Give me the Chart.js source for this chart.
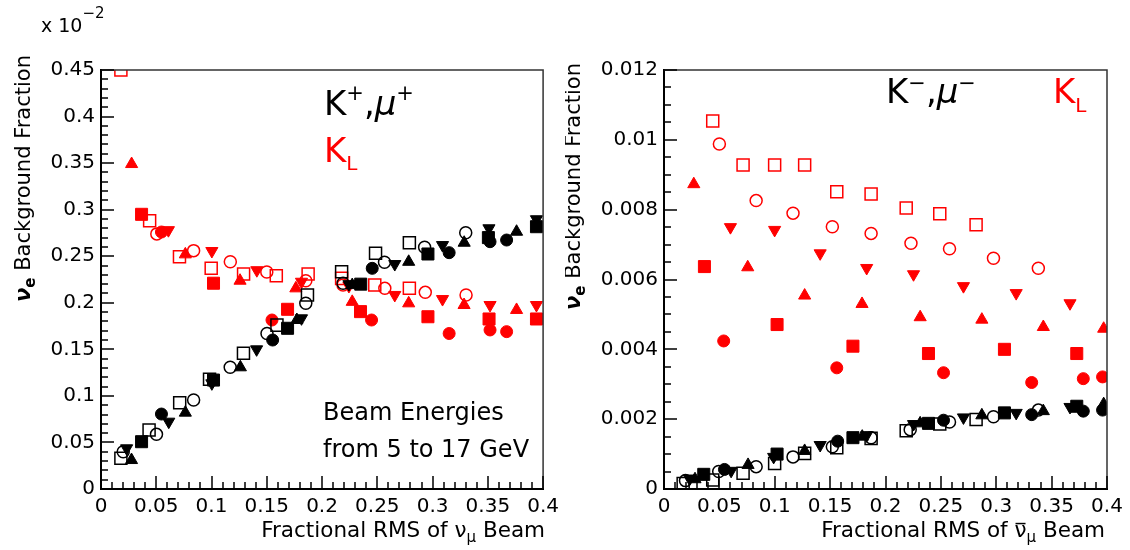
<!DOCTYPE html>
<html>
<head>
<meta charset="utf-8">
<script src="https://cdn.jsdelivr.net/npm/chart.js@4.4.1/dist/chart.umd.min.js"></script>
<style>
  body { margin: 0; background: #fff; }
  #wrap { position: relative; width: 1130px; height: 550px; }
  canvas { position: absolute; top: 0; }
  #left { left: 0; }
  #right { left: 565px; }
</style>
</head>
<body>
<div id="wrap">
  <canvas id="left" width="565" height="550" style="width:565px;height:550px"></canvas>
  <canvas id="right" width="565" height="550" style="width:565px;height:550px"></canvas>
</div>
<script>
const RED = '#ff0000';
const BLACK = '#000000';
const FONT = '"DejaVu Sans"';

// left panel, y in units of 1e-2 ; [fractional RMS, background fraction]
const kPlusOpenSquare = [[0.018,0.033],[0.0435,0.0634],[0.0712,0.0927],[0.0982,0.1178],[0.1289,0.1457],[0.1592,0.176],[0.1868,0.2084],[0.2177,0.2334],[0.2484,0.2531],[0.279,0.2645]];
const kPlusOpenCircle = [[0.0201,0.040],[0.0502,0.0587],[0.0838,0.0956],[0.1169,0.1307],[0.1502,0.167],[0.1853,0.1995],[0.219,0.221],[0.2565,0.2435],[0.2928,0.2596],[0.33,0.2753]];
const kPlusDownTri = [[0.0232,0.0437],[0.0613,0.0723],[0.1003,0.1135],[0.1408,0.150],[0.1814,0.1833],[0.2243,0.220],[0.2658,0.2416],[0.309,0.262],[0.351,0.28],[0.394,0.2897]];
const kPlusUpTri = [[0.0276,0.0311],[0.0763,0.082],[0.1261,0.1307],[0.1772,0.1815],[0.2273,0.219],[0.2784,0.244],[0.3286,0.2645],[0.376,0.2763]];
const kPlusSquare = [[0.0367,0.0508],[0.1018,0.117],[0.1688,0.1726],[0.235,0.220],[0.2958,0.2524],[0.3505,0.270],[0.394,0.2817]];
const kPlusCircle = [[0.0547,0.0805],[0.1553,0.16],[0.2454,0.237],[0.315,0.2538],[0.352,0.2656],[0.367,0.2674]];

const kLongLOpenSquare = [[0.018,0.45],[0.044,0.288],[0.071,0.2495],[0.0997,0.237],[0.129,0.231],[0.1586,0.229],[0.1874,0.231],[0.2177,0.2262],[0.2477,0.219],[0.279,0.2155]];
const kLongLOpenCircle = [[0.0505,0.274],[0.0838,0.256],[0.117,0.244],[0.150,0.233],[0.1853,0.2237],[0.219,0.219],[0.2568,0.2155],[0.2934,0.2112],[0.3303,0.2084]];
const kLongLDownTri = [[0.061,0.278],[0.1003,0.2556],[0.141,0.235],[0.1814,0.2226],[0.2243,0.218],[0.2658,0.2084],[0.309,0.204],[0.352,0.1976],[0.394,0.1976]];
const kLongLUpTri = [[0.0277,0.349],[0.0763,0.252],[0.1258,0.2237],[0.1763,0.2155],[0.2273,0.201],[0.2784,0.1994],[0.3285,0.1976],[0.376,0.1923]];
const kLongLSquare = [[0.0367,0.295],[0.1018,0.221],[0.1688,0.193],[0.2348,0.1905],[0.2958,0.185],[0.3511,0.1826],[0.394,0.1826]];
const kLongLCircle = [[0.0547,0.276],[0.1547,0.1815],[0.2448,0.1815],[0.315,0.167],[0.352,0.1708],[0.367,0.169]];

// right panel (antineutrino beam)
const kMinusOpenSquare = [[0.0173,0.00016],[0.044,0.00026],[0.0714,0.00045],[0.0999,0.00073],[0.127,0.00102],[0.156,0.00118],[0.187,0.00145],[0.2187,0.00167],[0.249,0.00186],[0.2818,0.00199]];
const kMinusOpenCircle = [[0.0194,0.00024],[0.0494,0.0005],[0.0832,0.00064],[0.1165,0.00092],[0.152,0.00121],[0.187,0.00147],[0.2223,0.0017],[0.2578,0.00192],[0.2975,0.00207],[0.338,0.00226]];
const kMinusDownTri = [[0.023,0.0003],[0.0606,0.00052],[0.099,0.00092],[0.141,0.00126],[0.183,0.00154],[0.2253,0.00186],[0.2704,0.00205],[0.318,0.00218],[0.3666,0.00235]];
const kMinusUpTri = [[0.028,0.00028],[0.0759,0.00069],[0.127,0.00109],[0.179,0.0015],[0.2313,0.00188],[0.287,0.00211],[0.3425,0.00223],[0.397,0.00243]];
const kMinusSquare = [[0.0359,0.00042],[0.1021,0.001],[0.1706,0.00147],[0.2388,0.00188],[0.3074,0.00218],[0.3727,0.00237]];
const kMinusCircle = [[0.0546,0.00056],[0.1568,0.00137],[0.2524,0.00197],[0.332,0.00213],[0.3786,0.00223],[0.396,0.00226]];

const kLongROpenSquare = [[0.044,0.01054],[0.0714,0.00928],[0.0999,0.00928],[0.127,0.00928],[0.156,0.00851],[0.187,0.00845],[0.2187,0.00805],[0.249,0.00788],[0.2818,0.00757]];
const kLongROpenCircle = [[0.050,0.00988],[0.0832,0.00826],[0.1165,0.0079],[0.152,0.00751],[0.187,0.00732],[0.223,0.00704],[0.2578,0.00688],[0.2975,0.00661],[0.338,0.00632]];
const kLongRDownTri = [[0.060,0.0075],[0.0999,0.00742],[0.141,0.00675],[0.183,0.00633],[0.2253,0.00615],[0.2704,0.00581],[0.318,0.00561],[0.3666,0.00532]];
const kLongRUpTri = [[0.0269,0.00873],[0.0756,0.00635],[0.127,0.00554],[0.1788,0.0053],[0.2313,0.00492],[0.287,0.00485],[0.3425,0.00464],[0.397,0.00459]];
const kLongRSquare = [[0.0365,0.00637],[0.1021,0.00471],[0.1706,0.00409],[0.2388,0.00388],[0.3074,0.004],[0.3727,0.00388]];
const kLongRCircle = [[0.0539,0.00424],[0.156,0.00347],[0.2524,0.00333],[0.332,0.00305],[0.3786,0.00316],[0.396,0.00321]];

const MARKERS = {
  square: { style: 'rect', r: 8.5, rot: 0 },
  circle: { style: 'circle', r: 6, rot: 0 },
  up: { style: 'triangle', r: 7, rot: 0 },
  down: { style: 'triangle', r: 7, rot: 180 }
};

function series(points, color, marker, open) {
  const m = MARKERS[marker];
  return {
    data: points.map(([x, y]) => ({ x, y })),
    pointStyle: m.style,
    pointRadius: m.r,
    pointHoverRadius: m.r,
    pointRotation: m.rot,
    pointBackgroundColor: open ? 'rgba(0,0,0,0)' : color,
    pointBorderColor: color,
    pointBorderWidth: open ? 1.5 : 1,
    showLine: false,
    clip: 0
  };
}

function panelSets(black, red) {
  const kinds = [['square', true], ['circle', true], ['down', false], ['up', false], ['square', false], ['circle', false]];
  const sets = [];
  black.forEach((pts, i) => sets.push(series(pts, BLACK, kinds[i][0], kinds[i][1])));
  red.forEach((pts, i) => sets.push(series(pts, RED, kinds[i][0], kinds[i][1])));
  return sets;
}

const fmt = v => String(+Number(v).toFixed(4));

function drawItem(ctx, it) {
  ctx.save();
  ctx.translate(it.x, it.y);
  if (it.rotate) ctx.rotate(-Math.PI / 2);
  ctx.textBaseline = 'alphabetic';
  ctx.textAlign = 'left';
  const fontOf = p => `${p.italic ? 'italic ' : ''}${p.bold ? 'bold ' : ''}${p.size}px ${FONT}`;
  let w = 0;
  for (const p of it.parts) { ctx.font = fontOf(p); w += ctx.measureText(p.t).width; }
  let cx = it.align === 'right' ? -w : 0;
  for (const p of it.parts) {
    ctx.font = fontOf(p);
    ctx.fillStyle = p.color || BLACK;
    const pw = ctx.measureText(p.t).width;
    ctx.fillText(p.t, cx, p.dy || 0);
    if (p.bar) ctx.fillRect(cx + 1, (p.dy || 0) - p.size * 0.66, pw - 2, 1.5);
    cx += pw;
  }
  ctx.restore();
}

// frame on top/right, inward tick marks on the two axes, then the texts
function decorations(key, texts, yMax, yMinor, yEvery) {
  return {
    id: 'deco_' + key,
    afterDraw(chart) {
      const ctx = chart.ctx;
      const a = chart.chartArea;
      const xs = chart.scales.x;
      const ys = chart.scales.y;
      ctx.save();
      ctx.setTransform(1, 0, 0, 1, 0, 0);
      ctx.globalAlpha = 1;
      ctx.globalCompositeOperation = 'source-over';
      ctx.strokeStyle = '#333333';
      ctx.lineWidth = 1.5;
      ctx.beginPath();
      ctx.moveTo(a.left, a.top);
      ctx.lineTo(a.right, a.top);
      ctx.lineTo(a.right, a.bottom);
      ctx.stroke();

      ctx.strokeStyle = '#000000';
      ctx.lineWidth = 1.5;
      ctx.beginPath();
      for (let i = 0; i <= 40; i++) {
        const px = Math.round(xs.getPixelForValue(i / 100));
        const len = (i % 5 === 0) ? 13 : 7;
        ctx.moveTo(px, a.bottom);
        ctx.lineTo(px, a.bottom - len);
      }
      const ny = Math.round(yMax / yMinor);
      for (let j = 0; j <= ny; j++) {
        const py = Math.round(ys.getPixelForValue(j * yMinor));
        const len = (j % yEvery === 0) ? 13 : 7;
        ctx.moveTo(a.left, py);
        ctx.lineTo(a.left + len, py);
      }
      ctx.stroke();
      ctx.restore();
      texts.forEach(it => drawItem(ctx, it));
    }
  };
}

function scales(yMax, yStep) {
  const tickFont = { family: 'DejaVu Sans', size: 20 };
  return {
    x: {
      type: 'linear', min: 0, max: 0.4,
      ticks: { stepSize: 0.05, callback: fmt, font: tickFont, color: BLACK, padding: 6, maxRotation: 0, autoSkip: false },
      grid: { display: false, drawTicks: false },
      border: { display: true, color: BLACK, width: 2 },
      afterFit: s => { s.height = 61; }
    },
    y: {
      type: 'linear', min: 0, max: yMax,
      ticks: { stepSize: yStep, callback: fmt, font: tickFont, color: BLACK, padding: 6, autoSkip: false },
      grid: { display: false, drawTicks: false },
      border: { display: true, color: BLACK, width: 2 },
      afterFit: s => { s.width = 95; }
    }
  };
}

function makeChart(id, datasets, yMax, yStep, yMinor, yEvery, padLeft, padRight, texts) {
  return new Chart(document.getElementById(id), {
    type: 'scatter',
    data: { datasets },
    options: {
      responsive: false,
      animation: false,
      layout: { padding: { left: padLeft, right: padRight, top: 70, bottom: 0 } },
      scales: scales(yMax, yStep),
      plugins: { legend: { display: false }, tooltip: { enabled: false } }
    },
    plugins: [decorations(id, texts, yMax, yMinor, yEvery)]
  });
}

const leftTexts = [
  { x: 41, y: 32, parts: [{ t: 'x 10', size: 19 }, { t: '−2', size: 15, dy: -14 }] },
  { x: 324, y: 115, parts: [{ t: 'K', size: 34 }, { t: '+', size: 21, dy: -15 }, { t: ',', size: 34 }, { t: 'μ', size: 34, italic: true }, { t: '+', size: 21, dy: -15 }] },
  { x: 324, y: 162, parts: [{ t: 'K', size: 34, color: RED }, { t: 'L', size: 20, dy: 8, color: RED }] },
  { x: 323, y: 420, parts: [{ t: 'Beam Energies', size: 24 }] },
  { x: 323, y: 457, parts: [{ t: 'from 5 to 17 GeV', size: 24 }] },
  { x: 30, y: 55, rotate: true, align: 'right', parts: [{ t: 'ν', size: 21, bold: true, italic: true }, { t: 'e', size: 15, dy: 5, bold: true }, { t: ' Background Fraction', size: 21 }] },
  { x: 545, y: 537, align: 'right', parts: [{ t: 'Fractional RMS of ', size: 21.5 }, { t: 'ν', size: 21.5 }, { t: 'μ', size: 15, dy: 5 }, { t: ' Beam', size: 21.5 }] }
];

const rightTexts = [
  { x: 321, y: 103, parts: [{ t: 'K', size: 34 }, { t: '−', size: 21, dy: -13 }, { t: ',', size: 34 }, { t: 'μ', size: 34, italic: true }, { t: '−', size: 21, dy: -13 }] },
  { x: 488, y: 103, parts: [{ t: 'K', size: 34, color: RED }, { t: 'L', size: 20, dy: 9, color: RED }] },
  { x: 15, y: 63, rotate: true, align: 'right', parts: [{ t: 'ν', size: 21, bold: true, italic: true }, { t: 'e', size: 15, dy: 5, bold: true }, { t: ' Background Fraction', size: 21 }] },
  { x: 540, y: 537, align: 'right', parts: [{ t: 'Fractional RMS of ', size: 21.5 }, { t: 'ν', size: 21.5, bar: true }, { t: 'μ', size: 15, dy: 5 }, { t: ' Beam', size: 21.5 }] }
];

makeChart('left',
  panelSets([kPlusOpenSquare, kPlusOpenCircle, kPlusDownTri, kPlusUpTri, kPlusSquare, kPlusCircle],
            [kLongLOpenSquare, kLongLOpenCircle, kLongLDownTri, kLongLUpTri, kLongLSquare, kLongLCircle]),
  0.45, 0.05, 0.01, 5, 6, 20, leftTexts);

makeChart('right',
  panelSets([kMinusOpenSquare, kMinusOpenCircle, kMinusDownTri, kMinusUpTri, kMinusSquare, kMinusCircle],
            [kLongROpenSquare, kLongROpenCircle, kLongRDownTri, kLongRUpTri, kLongRSquare, kLongRCircle]),
  0.012, 0.002, 0.0005, 4, 4, 23, rightTexts);
</script>
</body>
</html>
